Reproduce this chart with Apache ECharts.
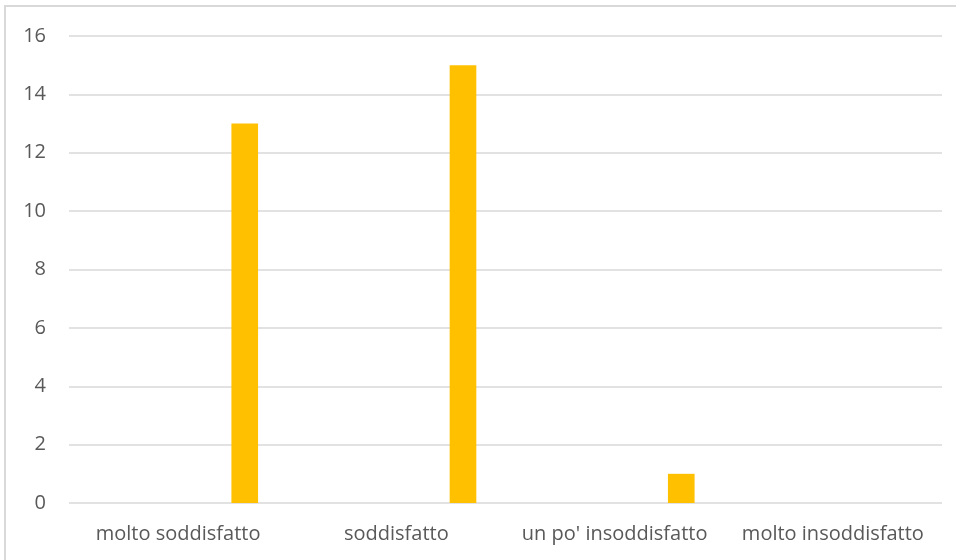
<!DOCTYPE html>
<html><head><meta charset="utf-8">
<script src="https://cdn.jsdelivr.net/npm/echarts@6/dist/echarts.min.js"></script>
<style>html,body{margin:0;padding:0;background:#fff}#c{width:956px;height:560px}</style>
</head><body><div id="c"></div>
<script>
var categories = ['molto soddisfatto', 'soddisfatto', "un po' insoddisfatto", 'molto insoddisfatto'];
var values = [13, 15, 1, 0];
var emptySeriesCount = 5;
var yTicks = [0, 2, 4, 6, 8, 10, 12, 14, 16];

var chart = echarts.init(document.getElementById('c'), null, {renderer: 'canvas'});
var series = [];
for (var i = 0; i < emptySeriesCount; i++) {
  series.push({type: 'bar', data: categories.map(function(){return null;}), barGap: '0%', barCategoryGap: '26.74%', silent: true});
}
series.push({type: 'bar', data: values, barGap: '0%', barCategoryGap: '26.74%', itemStyle: {color: '#FFC000'}});
chart.setOption({
  animation: false,
  grid: {left: 69, right: 14, top: 36, bottom: 57, containLabel: false},
  graphic: [{type: 'rect', shape: {x: 5, y: 6, width: 1000, height: 600}, style: {fill: null, stroke: '#d9d9d9', lineWidth: 2}}],
  xAxis: {type: 'category', data: categories,
    axisLine: {show: false}, axisTick: {show: false},
    axisLabel: {interval: 0, color: '#595959', fontFamily: 'Open Sans', fontSize: 20, margin: 21}},
  yAxis: {type: 'value', min: yTicks[0], max: yTicks[yTicks.length-1], interval: 2,
    axisLine: {show: false}, axisTick: {show: false},
    splitLine: {lineStyle: {color: '#d9d9d9', width: 1.5}},
    axisLabel: {color: '#595959', fontFamily: 'Open Sans', fontSize: 20, margin: 23}},
  series: series
});
</script></body></html>
